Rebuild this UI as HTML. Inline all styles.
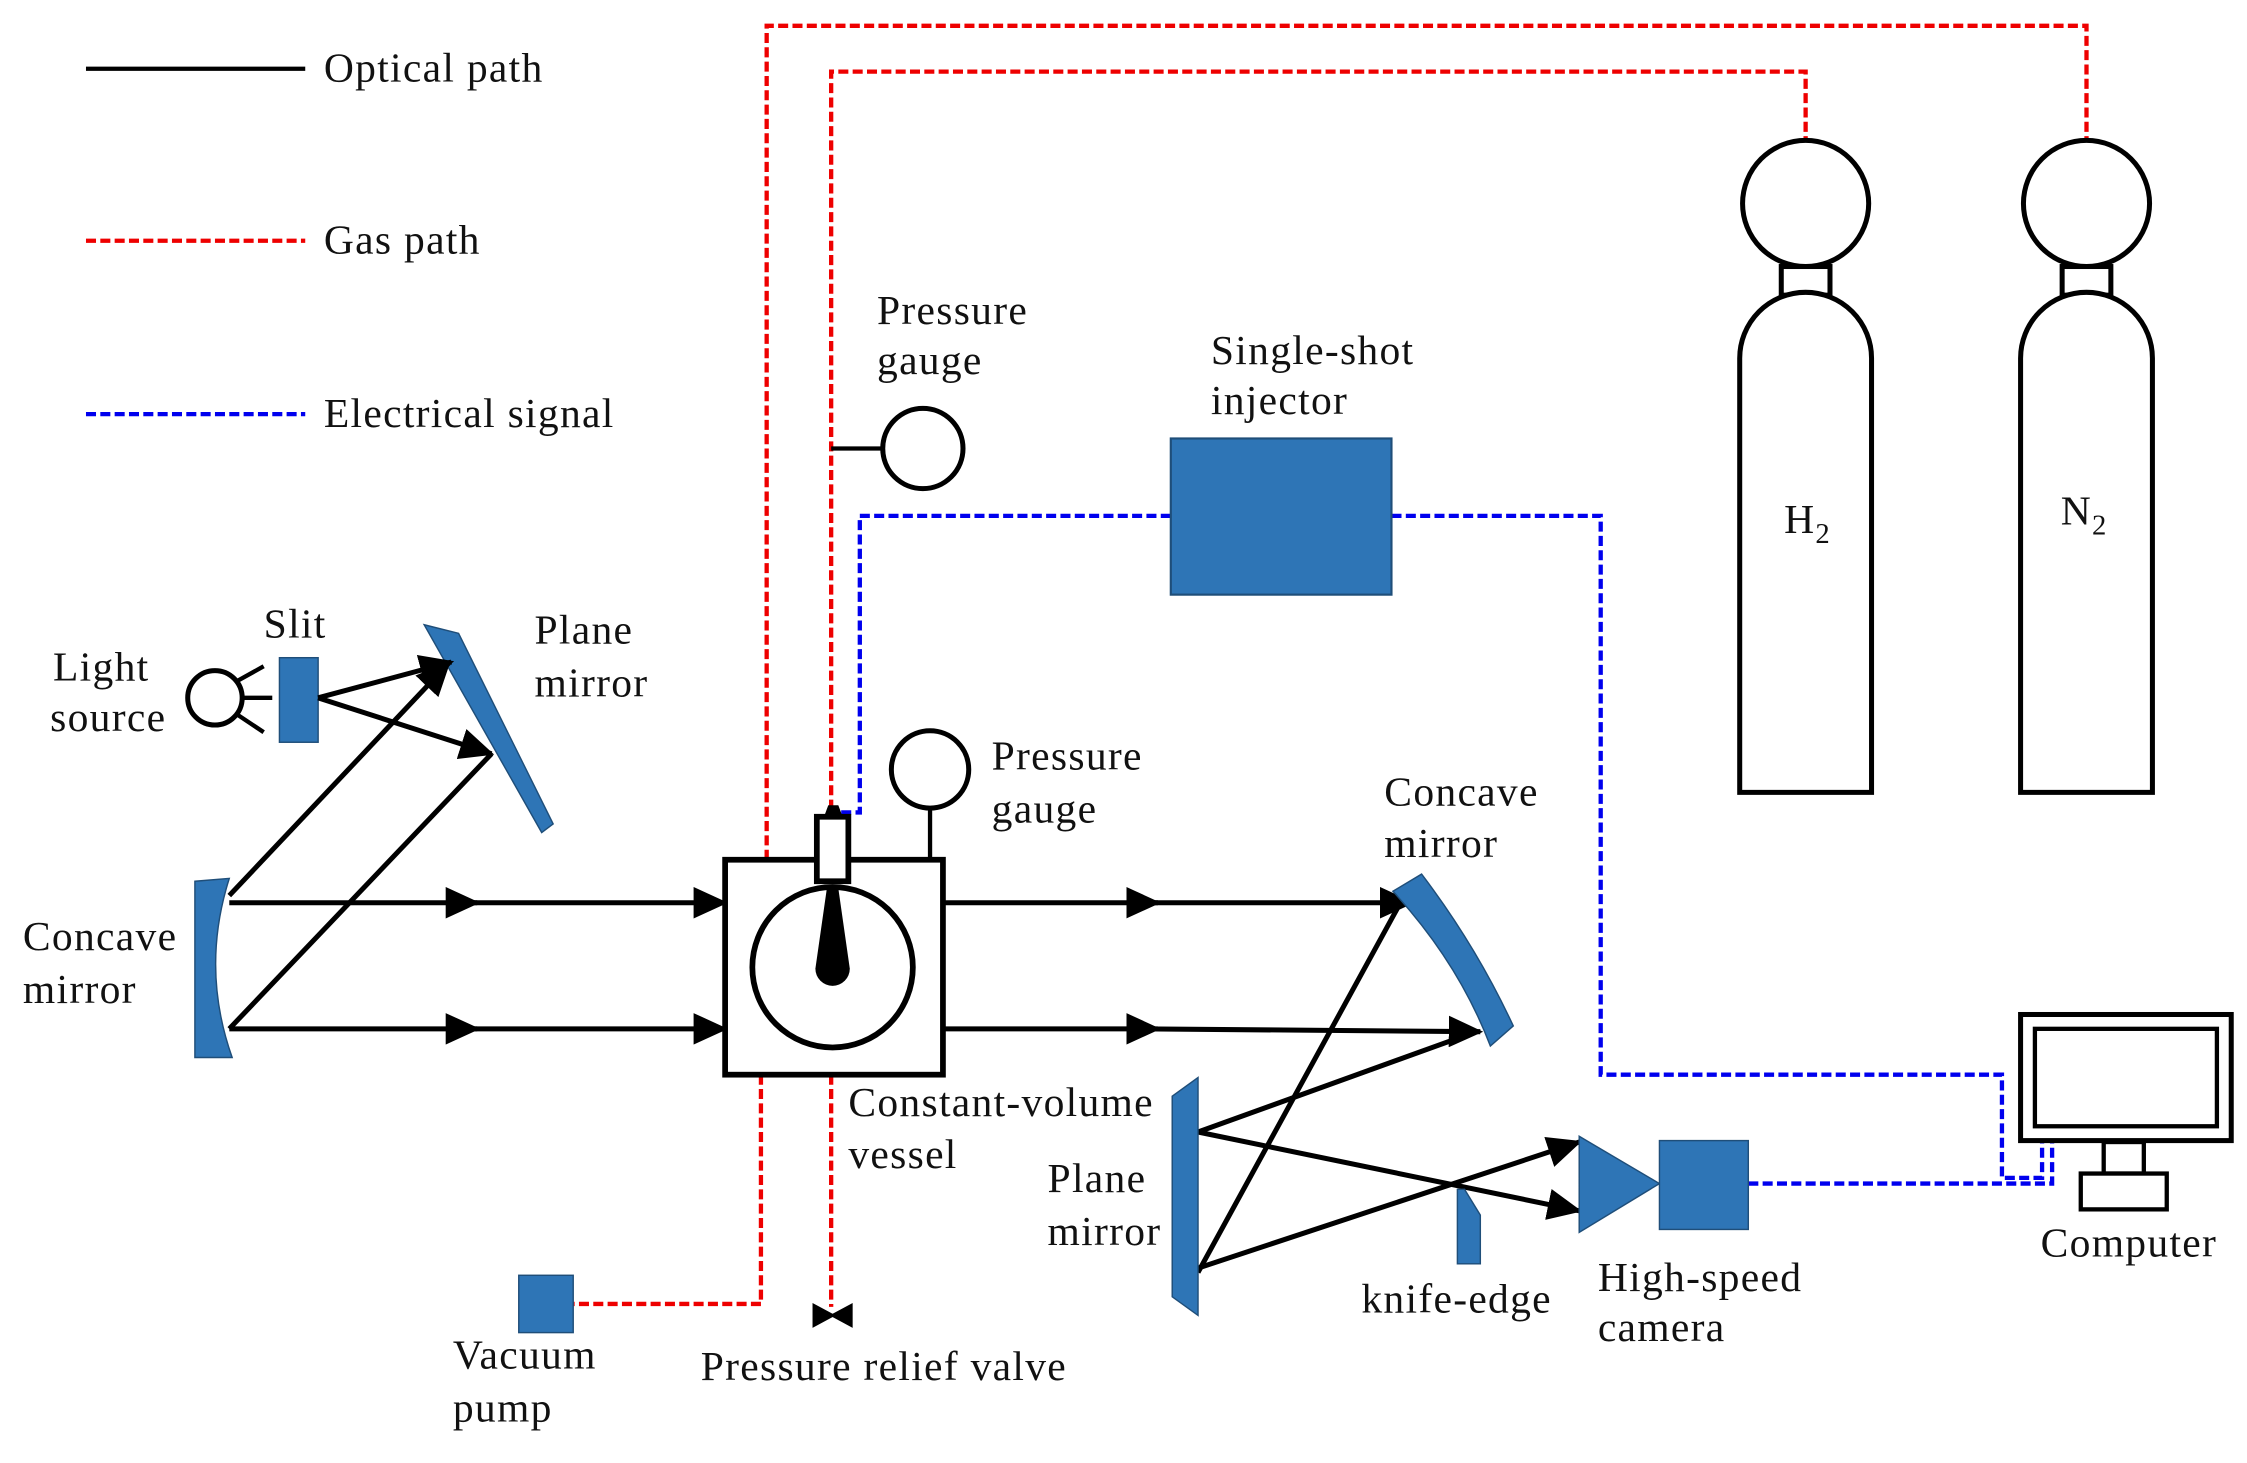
<!DOCTYPE html>
<html><head><meta charset="utf-8"><style>html,body{margin:0;padding:0;background:#fff}svg{display:block}text{font-family:"Liberation Serif",serif;font-size:29px;letter-spacing:0.9px;fill:#111}</style></head>
<body>
<svg width="2247" height="1463" viewBox="0 0 1568 1021" preserveAspectRatio="none" xmlns="http://www.w3.org/2000/svg">
<defs>
<marker id="a" markerWidth="24" markerHeight="22" refX="22" refY="11" orient="auto" markerUnits="userSpaceOnUse" viewBox="0 0 24 22"><path d="M0,0 L24,11 L0,22z" fill="#000"/></marker>
</defs>
<g fill="none" stroke-linecap="butt">
<line x1="60" y1="48" x2="213" y2="48" stroke="#000" stroke-width="3"/>
<line x1="60" y1="168" x2="213" y2="168" stroke="#e00" stroke-width="3" stroke-dasharray="7,3"/>
<line x1="60" y1="289" x2="213" y2="289" stroke="#00e" stroke-width="3" stroke-dasharray="7,3"/>
<polyline points="535,600 535,18 1456,18 1456,100" stroke="#e00" stroke-width="3" stroke-dasharray="7,3"/>
<polyline points="580,565 580,50 1260,50 1260,100" stroke="#e00" stroke-width="3" stroke-dasharray="7,3"/>
<polyline points="531,750 531,910 400,910" stroke="#e00" stroke-width="3" stroke-dasharray="7,3"/>
<line x1="580" y1="750" x2="580" y2="912" stroke="#e00" stroke-width="3" stroke-dasharray="7,3"/>
<polyline points="817,360 600,360 600,567 585,567" stroke="#00e" stroke-width="3" stroke-dasharray="7,3"/>
<polyline points="971,360 1117,360 1117,750 1397,750 1397,822 1425,822 1425,797" stroke="#00e" stroke-width="3" stroke-dasharray="7,3"/>
<polyline points="1220,826 1432,826 1432,797" stroke="#00e" stroke-width="3" stroke-dasharray="7,3"/>
<g stroke="#000" stroke-width="3.5" fill="#fff">
<circle cx="1260" cy="142" r="44"/>
<rect x="1243" y="186" width="34" height="20"/>
<path d="M1214,553 L1214,250 A46,46 0 0 1 1306,250 L1306,553 Z"/>
<circle cx="1456" cy="142" r="44"/>
<rect x="1439" y="186" width="34" height="20"/>
<path d="M1410,553 L1410,250 A46,46 0 0 1 1502,250 L1502,553 Z"/>
</g>
<line x1="580" y1="313" x2="616" y2="313" stroke="#000" stroke-width="3"/>
<circle cx="644" cy="313" r="28" stroke="#000" stroke-width="3.5" fill="#fff"/>
<line x1="649" y1="564" x2="649" y2="600" stroke="#000" stroke-width="3"/>
<circle cx="649" cy="537" r="27" stroke="#000" stroke-width="3.5" fill="#fff"/>
<rect x="817" y="306" width="154" height="109" fill="#2e75b6" stroke="#1f4e79" stroke-width="1.5"/>
<rect x="506" y="600" width="152" height="150" stroke="#000" stroke-width="4" fill="#fff"/>
<circle cx="581" cy="675" r="56" stroke="#000" stroke-width="4"/>
<rect x="570" y="570" width="22" height="45" stroke="#000" stroke-width="4" fill="#fff"/>
<path d="M577,620 L585,620 L593,676 A12,12 0 1 1 569,676 Z" fill="#000"/>
<path d="M575,570 L578,562 L585,562 L588,570Z" fill="#000"/>
<rect x="362" y="890" width="38" height="40" fill="#2e75b6" stroke="#1f4e79"/>
<path d="M568,911 L594,925 L594,911 L568,925 Z" fill="#000" stroke="#000" stroke-width="2"/>
<circle cx="150" cy="487" r="19" stroke="#000" stroke-width="3.5" fill="#fff"/>
<g stroke="#000" stroke-width="3"><line x1="166" y1="475" x2="184" y2="465"/><line x1="170" y1="487" x2="190" y2="487"/><line x1="166" y1="499" x2="184" y2="511"/></g>
<rect x="195" y="459" width="27" height="59" fill="#2e75b6" stroke="#1f4e79"/>
<polygon points="296,436 320,442 386,575 378,581" fill="#2e75b6" stroke="#1f4e79"/>
<path d="M136,615 L160,613 Q140,676 162,738 L136,738 Z" fill="#2e75b6" stroke="#1f4e79"/>
<g stroke="#000" stroke-width="3.5">
<line x1="222" y1="487" x2="315" y2="462" marker-end="url(#a)"/>
<line x1="222" y1="487" x2="343" y2="526" marker-end="url(#a)"/>
<line x1="160" y1="625" x2="313" y2="463" marker-end="url(#a)"/>
<line x1="160" y1="718" x2="343" y2="526"/>
<line x1="160" y1="630" x2="333" y2="630" marker-end="url(#a)"/><line x1="320" y1="630" x2="506" y2="630" marker-end="url(#a)"/>
<line x1="160" y1="718" x2="333" y2="718" marker-end="url(#a)"/><line x1="320" y1="718" x2="506" y2="718" marker-end="url(#a)"/>
<line x1="658" y1="630" x2="808" y2="630" marker-end="url(#a)"/><line x1="795" y1="630" x2="985" y2="630" marker-end="url(#a)"/>
<line x1="658" y1="718" x2="808" y2="718" marker-end="url(#a)"/><line x1="795" y1="718" x2="1033" y2="720" marker-end="url(#a)"/>
<line x1="980" y1="625" x2="836" y2="888"/>
<line x1="1030" y1="720" x2="836" y2="790"/>
<line x1="836" y1="790" x2="1102" y2="845" marker-end="url(#a)"/>
<line x1="836" y1="885" x2="1102" y2="797" marker-end="url(#a)"/>
</g>
<path d="M972,622 L992,610 Q1030,660 1056,716 L1040,730 Q1018,672 972,622 Z" fill="#2e75b6" stroke="#1f4e79"/>
<polygon points="818,765 836,752 836,918 818,905" fill="#2e75b6" stroke="#1f4e79"/>
<polygon points="1017,830 1022,830 1033,848 1033,882 1017,882" fill="#2e75b6" stroke="#1f4e79"/>
<polygon points="1102,793 1102,860 1158,826" fill="#2e75b6" stroke="#1f4e79"/>
<rect x="1158" y="796" width="62" height="62" fill="#2e75b6" stroke="#1f4e79"/>
<rect x="1410" y="708" width="147" height="88" stroke="#000" stroke-width="3.5" fill="#fff"/>
<rect x="1420" y="718" width="127" height="68" stroke="#000" stroke-width="3"/>
<rect x="1468" y="797" width="28" height="22" stroke="#000" stroke-width="3"/>
<rect x="1452" y="819" width="60" height="25" stroke="#000" stroke-width="3" fill="#fff"/>
</g>
<text x="226" y="57">Optical path</text>
<text x="226" y="177">Gas path</text>
<text x="226" y="298">Electrical signal</text>
<text x="612" y="226">Pressure</text><text x="612" y="261">gauge</text>
<text x="845" y="254">Single-shot</text><text x="845" y="289">injector</text>
<text x="1245" y="372">H<tspan font-size="20" dy="7">2</tspan></text>
<text x="1438" y="366">N<tspan font-size="20" dy="7">2</tspan></text>
<text x="184" y="445">Slit</text>
<text x="37" y="475">Light</text><text x="35" y="510">source</text>
<text x="373" y="449">Plane</text><text x="373" y="486">mirror</text>
<text x="692" y="537">Pressure</text><text x="692" y="574">gauge</text>
<text x="966" y="562">Concave</text><text x="966" y="598">mirror</text>
<text x="16" y="663">Concave</text><text x="16" y="700">mirror</text>
<text x="592" y="779">Constant-volume</text><text x="592" y="815">vessel</text>
<text x="731" y="832">Plane</text><text x="731" y="869">mirror</text>
<text x="950" y="916">knife-edge</text>
<text x="1115" y="901">High-speed</text><text x="1115" y="936">camera</text>
<text x="1424" y="877">Computer</text>
<text x="316" y="955">Vacuum</text><text x="316" y="992">pump</text>
<text x="489" y="963">Pressure relief valve</text>
</svg>
</body></html>
